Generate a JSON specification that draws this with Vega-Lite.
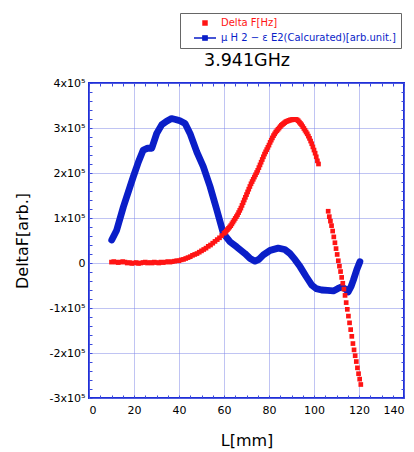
{
  "$schema": "https://vega.github.io/schema/vega-lite/v6.json",
  "width": 315,
  "height": 315,
  "autosize": "none",
  "padding": {"left": 89, "top": 83, "right": 10, "bottom": 54},
  "background": "white",
  "config": {
    "view": {"stroke": "#1f2fd8", "strokeWidth": 2},
    "font": "DejaVu Sans"
  },
  "datasets": {
    "red": [
      {"L": 10, "v": 2000}, {"L": 11, "v": 3000}, {"L": 12, "v": 2000}, {"L": 13, "v": 1000}, {"L": 14, "v": 2000},
      {"L": 15, "v": 3000}, {"L": 16, "v": 2000}, {"L": 17, "v": 0}, {"L": 18, "v": 1000}, {"L": 19, "v": -1000},
      {"L": 20, "v": 0}, {"L": 21, "v": 1000}, {"L": 22, "v": -1000}, {"L": 23, "v": 0}, {"L": 24, "v": 1000},
      {"L": 25, "v": 2000}, {"L": 26, "v": 0}, {"L": 27, "v": 1000}, {"L": 28, "v": 0}, {"L": 29, "v": 2000},
      {"L": 30, "v": 1000}, {"L": 31, "v": 0}, {"L": 32, "v": 2000}, {"L": 33, "v": 1000}, {"L": 34, "v": 2000},
      {"L": 35, "v": 3000}, {"L": 36, "v": 2000}, {"L": 37, "v": 3000}, {"L": 38, "v": 4000}, {"L": 39, "v": 5000},
      {"L": 40, "v": 5000}, {"L": 41, "v": 7000}, {"L": 42, "v": 8000}, {"L": 43, "v": 10000}, {"L": 44, "v": 12000},
      {"L": 45, "v": 14000}, {"L": 46, "v": 17000}, {"L": 47, "v": 19000}, {"L": 48, "v": 21000}, {"L": 49, "v": 24000},
      {"L": 50, "v": 27000}, {"L": 51, "v": 30000}, {"L": 52, "v": 33000}, {"L": 53, "v": 37000}, {"L": 54, "v": 40000},
      {"L": 55, "v": 44000}, {"L": 56, "v": 48000}, {"L": 57, "v": 52000}, {"L": 58, "v": 56000}, {"L": 59, "v": 61000},
      {"L": 60, "v": 66000}, {"L": 60.5, "v": 68000}, {"L": 61, "v": 71000}, {"L": 61.5, "v": 74000}, {"L": 62, "v": 77000},
      {"L": 62.5, "v": 80000}, {"L": 63, "v": 83000}, {"L": 63.5, "v": 87000}, {"L": 64, "v": 91000}, {"L": 64.5, "v": 95000},
      {"L": 65, "v": 99000}, {"L": 65.5, "v": 103000}, {"L": 66, "v": 107000}, {"L": 66.5, "v": 112000}, {"L": 67, "v": 117000},
      {"L": 67.5, "v": 122000}, {"L": 68, "v": 128000}, {"L": 68.5, "v": 134000}, {"L": 69, "v": 140000}, {"L": 69.5, "v": 146000},
      {"L": 70, "v": 152000}, {"L": 70.5, "v": 158000}, {"L": 71, "v": 164000}, {"L": 71.5, "v": 170000}, {"L": 72, "v": 176000},
      {"L": 72.5, "v": 181000}, {"L": 73, "v": 186000}, {"L": 73.5, "v": 191000}, {"L": 74, "v": 196000}, {"L": 74.5, "v": 201000},
      {"L": 75, "v": 206000}, {"L": 75.5, "v": 212000}, {"L": 76, "v": 218000}, {"L": 76.5, "v": 224000}, {"L": 77, "v": 230000},
      {"L": 77.5, "v": 236000}, {"L": 78, "v": 242000}, {"L": 78.5, "v": 247000}, {"L": 79, "v": 252000}, {"L": 79.5, "v": 257000},
      {"L": 80, "v": 262000}, {"L": 80.5, "v": 268000}, {"L": 81, "v": 273000}, {"L": 81.5, "v": 278000}, {"L": 82, "v": 283000},
      {"L": 82.5, "v": 287000}, {"L": 83, "v": 291000}, {"L": 83.5, "v": 294000}, {"L": 84, "v": 297000}, {"L": 84.5, "v": 300000},
      {"L": 85, "v": 303000}, {"L": 85.5, "v": 306000}, {"L": 86, "v": 308000}, {"L": 86.5, "v": 310000}, {"L": 87, "v": 312000},
      {"L": 87.5, "v": 314000}, {"L": 88, "v": 315000}, {"L": 88.5, "v": 316000}, {"L": 89, "v": 317000}, {"L": 89.5, "v": 318000},
      {"L": 90, "v": 318000}, {"L": 90.5, "v": 319000}, {"L": 91, "v": 319000}, {"L": 91.5, "v": 319000}, {"L": 92, "v": 319000},
      {"L": 92.5, "v": 318000}, {"L": 93, "v": 316000}, {"L": 93.5, "v": 313000}, {"L": 94, "v": 310000}, {"L": 94.5, "v": 307000},
      {"L": 95, "v": 303000}, {"L": 95.5, "v": 299000}, {"L": 96, "v": 295000}, {"L": 96.5, "v": 291000}, {"L": 97, "v": 287000},
      {"L": 97.5, "v": 282000}, {"L": 98, "v": 277000}, {"L": 98.5, "v": 271000}, {"L": 99, "v": 265000}, {"L": 99.5, "v": 258000},
      {"L": 100, "v": 251000}, {"L": 100.5, "v": 244000}, {"L": 101, "v": 236000}, {"L": 101.5, "v": 227000}, {"L": 102, "v": 220000},
      {"L": 106.3, "v": 115000}, {"L": 106.8, "v": 103000}, {"L": 107.3, "v": 93000}, {"L": 107.8, "v": 83000}, {"L": 108.3, "v": 71000},
      {"L": 108.8, "v": 58000}, {"L": 109.3, "v": 45000}, {"L": 109.8, "v": 32000}, {"L": 110.3, "v": 19000}, {"L": 110.8, "v": 5000},
      {"L": 111.3, "v": -7000}, {"L": 111.8, "v": -19000}, {"L": 112.3, "v": -32000}, {"L": 112.8, "v": -45000}, {"L": 113.3, "v": -58000},
      {"L": 113.8, "v": -72000}, {"L": 114.3, "v": -88000}, {"L": 114.8, "v": -103000}, {"L": 115.3, "v": -118000}, {"L": 115.8, "v": -133000},
      {"L": 116.3, "v": -148000}, {"L": 116.8, "v": -163000}, {"L": 117.3, "v": -179000}, {"L": 117.8, "v": -193000}, {"L": 118.3, "v": -206000},
      {"L": 118.8, "v": -219000}, {"L": 119.3, "v": -233000}, {"L": 119.8, "v": -246000}, {"L": 120.3, "v": -258000}, {"L": 120.8, "v": -270000}
    ],
    "blue": [
      {"L": 10.1, "v": 51000}, {"L": 12.3, "v": 73000}, {"L": 15.3, "v": 125000}, {"L": 19.7, "v": 192000}, {"L": 22, "v": 225000},
      {"L": 24.1, "v": 251000}, {"L": 26, "v": 255000}, {"L": 27.9, "v": 255000}, {"L": 30.1, "v": 288000}, {"L": 32.3, "v": 307000},
      {"L": 34.5, "v": 315000}, {"L": 36.7, "v": 321000}, {"L": 38.5, "v": 319000}, {"L": 40.4, "v": 316000}, {"L": 42.7, "v": 310000},
      {"L": 44.9, "v": 288000}, {"L": 47.9, "v": 247000}, {"L": 50.8, "v": 214000}, {"L": 53.8, "v": 170000}, {"L": 56.8, "v": 118000},
      {"L": 59.7, "v": 66000}, {"L": 62.7, "v": 47000}, {"L": 65.6, "v": 36000}, {"L": 69.3, "v": 21000}, {"L": 71.6, "v": 10000},
      {"L": 73.8, "v": 4000}, {"L": 75.5, "v": 8000}, {"L": 77.5, "v": 18000}, {"L": 80.5, "v": 28000}, {"L": 84.1, "v": 33000},
      {"L": 87, "v": 30000}, {"L": 89.3, "v": 21000}, {"L": 91.5, "v": 8000}, {"L": 93.8, "v": -8000}, {"L": 96.5, "v": -30000},
      {"L": 99, "v": -49000}, {"L": 101, "v": -57000}, {"L": 103.4, "v": -60000}, {"L": 106, "v": -61000}, {"L": 108.6, "v": -62000},
      {"L": 110.5, "v": -57000}, {"L": 112.3, "v": -53000}, {"L": 114, "v": -58000}, {"L": 115.2, "v": -64000}, {"L": 116.5, "v": -52000},
      {"L": 117.5, "v": -38000}, {"L": 119, "v": -15000}, {"L": 120.4, "v": 3000}
    ]
  },
  "layer": [
    {
      "data": {"name": "blue"},
      "mark": {"type": "line", "strokeWidth": 6.8, "strokeJoin": "round", "strokeCap": "round"},
      "encoding": {
        "x": {
          "field": "L", "type": "quantitative",
          "scale": {"domain": [0, 140], "nice": false, "zero": false},
          "axis": {
            "title": "L[mm]", "titleFontSize": 16, "titleFontWeight": "normal", "titleColor": "black", "titlePadding": 17,
            "values": [0,5,10,15,20,25,30,35,40,45,50,55,60,65,70,75,80,85,90,95,100,105,110,115,120,125,130,135,140],
            "labelExpr": "datum.value % 20 === 0 ? datum.label : ''",
            "labelFontSize": 11, "labelColor": "black", "labelPadding": 9, "labelFont": "DejaVu Sans",
            "domain": false,
            "tickSize": -3, "tickColor": "#3a48dd", "tickWidth": 1,
            "grid": true, "gridDash": [1, 1], "gridWidth": 1,
            "gridColor": {"condition": {"test": "datum.value % 20 === 0", "value": "#8088e6"}, "value": "transparent"}
          }
        },
        "y": {
          "field": "v", "type": "quantitative",
          "scale": {"domain": [-300000, 400000], "nice": false, "zero": false},
          "axis": {
            "title": "DeltaF[arb.]", "titleFontSize": 16, "titleFontWeight": "normal", "titleColor": "black", "titlePadding": 19,
            "values": [-300000,-280000,-260000,-240000,-220000,-200000,-180000,-160000,-140000,-120000,-100000,-80000,-60000,-40000,-20000,0,20000,40000,60000,80000,100000,120000,140000,160000,180000,200000,220000,240000,260000,280000,300000,320000,340000,360000,380000,400000],
            "labelExpr": "datum.value === 0 ? '0\u2007' : (datum.value % 100000 === 0 ? (datum.value / 100000) + 'x10⁵' : '')",
            "labelFontSize": 11, "labelColor": "black", "labelPadding": 7, "labelFont": "DejaVu Sans",
            "domain": false,
            "tickSize": -3, "tickColor": "#3a48dd", "tickWidth": 1,
            "grid": true, "gridDash": [1, 1], "gridWidth": 1,
            "gridColor": {"condition": {"test": "datum.value % 100000 === 0", "value": "#8088e6"}, "value": "transparent"}
          }
        },
        "color": {
          "datum": "μ H 2 − ε E2(Calcurated)[arb.unit.]",
          "scale": {
            "domain": ["Delta F[Hz]", "μ H 2 − ε E2(Calcurated)[arb.unit.]"],
            "range": ["#ff1414", "#0a1ec8"]
          },
          "legend": {
            "title": null, "orient": "none", "legendX": 91, "legendY": -70,
            "padding": 5, "fillColor": "white", "strokeColor": "#666666",
            "labelFontSize": 10, "labelFont": "DejaVu Sans", "labelOffset": 11, "labelLimit": 400,
            "symbolSize": 36, "symbolOffset": 15, "rowPadding": 5,
            "encode": {
              "symbols": {
                "update": {
                  "shape": {"signal": "datum.value === 'Delta F[Hz]' ? 'square' : 'M-1,0H-0.2M0.2,0H1M-0.2,-0.2H0.2V0.2H-0.2Z'"},
                  "size": {"signal": "datum.value === 'Delta F[Hz]' ? 30 : 484"},
                  "fill": {"signal": "datum.value === 'Delta F[Hz]' ? '#ff1414' : '#c8ccff'"},
                  "stroke": {"signal": "datum.value === 'Delta F[Hz]' ? '#ff1414' : '#0a1ec8'"},
                  "strokeWidth": {"signal": "datum.value === 'Delta F[Hz]' ? 0 : 1.3"},
                  "opacity": {"value": 1}
                }
              },
              "labels": {
                "update": {
                  "fill": {"signal": "datum.value === 'Delta F[Hz]' ? '#ff1414' : '#0a1ec8'"}
                }
              }
            }
          }
        }
      }
    },
    {
      "data": {"name": "red"},
      "mark": {"type": "point", "shape": "square", "filled": true, "size": 22, "opacity": 1},
      "encoding": {
        "x": {"field": "L", "type": "quantitative", "axis": null},
        "y": {"field": "v", "type": "quantitative", "axis": null},
        "color": {"datum": "Delta F[Hz]"}
      }
    },
    {
      "data": {"name": "blue"},
      "mark": {"type": "point", "opacity": 0},
      "encoding": {
        "x": {
          "field": "L", "type": "quantitative",
          "axis": {
            "orient": "top", "title": "3.941GHz", "titleFontSize": 17.5, "titleFontWeight": "normal", "titleColor": "black",
            "titleFont": "DejaVu Sans", "titlePadding": 13,
            "labels": false, "domain": false, "grid": false,
            "values": [0,5,10,15,20,25,30,35,40,45,50,55,60,65,70,75,80,85,90,95,100,105,110,115,120,125,130,135,140],
            "tickSize": -3, "tickColor": "#3a48dd", "tickWidth": 1
          }
        },
        "y": {
          "field": "v", "type": "quantitative",
          "axis": {
            "orient": "right", "title": null, "labels": false, "domain": false, "grid": false,
            "values": [-300000,-280000,-260000,-240000,-220000,-200000,-180000,-160000,-140000,-120000,-100000,-80000,-60000,-40000,-20000,0,20000,40000,60000,80000,100000,120000,140000,160000,180000,200000,220000,240000,260000,280000,300000,320000,340000,360000,380000,400000],
            "tickSize": -3, "tickColor": "#3a48dd", "tickWidth": 1
          }
        }
      }
    }
  ],
  "resolve": {"axis": {"x": "independent", "y": "independent"}}
}
